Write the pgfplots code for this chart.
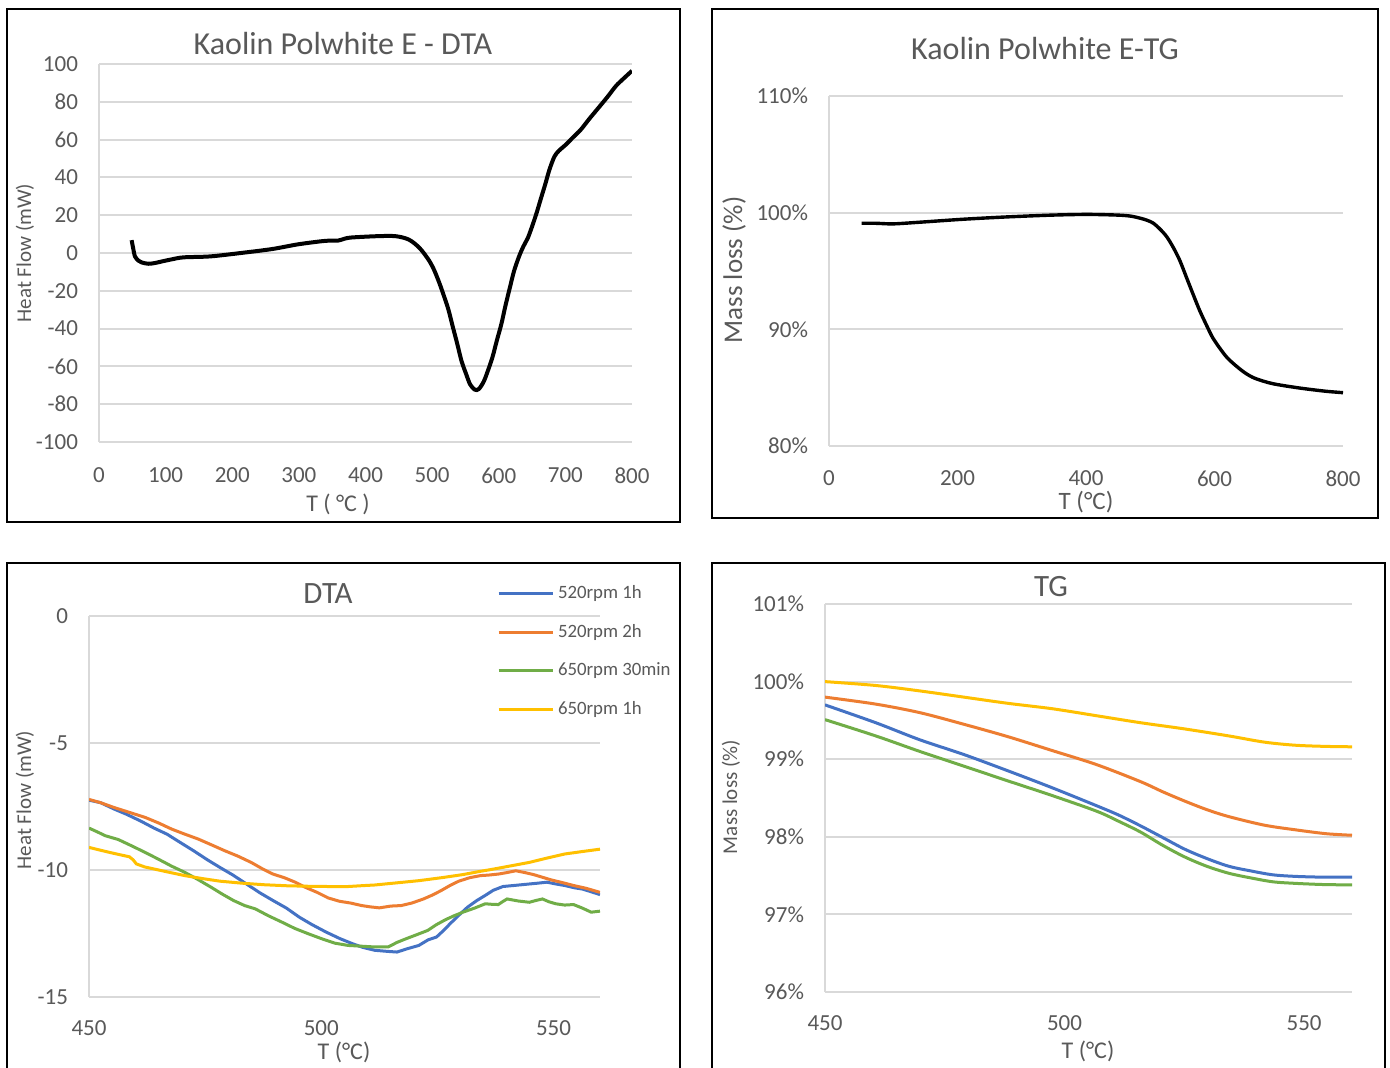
\documentclass[border=0pt]{standalone}
\usepackage{fontspec}
\setmainfont{Carlito}
\usepackage{pgfplots}
\pgfplotsset{compat=1.18}
\definecolor{txt}{HTML}{595959}
\definecolor{gridc}{HTML}{D9D9D9}
\definecolor{cb}{HTML}{4472C4}
\definecolor{co}{HTML}{ED7D31}
\definecolor{cg}{HTML}{70AD47}
\definecolor{cy}{HTML}{FFC000}
\pgfplotsset{
  base/.style={
    scale only axis,
    anchor=south west,
    axis x line*=bottom, axis y line*=left,
    axis line style={draw=gridc, line width=1pt, -},
    ymajorgrids, grid style={draw=gridc, line width=1pt},
    major tick length=0pt,
    tick label style={font=\fontsize{11.5}{13}\selectfont, text=txt},
    /pgf/number format/assume math mode=true,
    /pgf/number format/1000 sep={},
    yticklabel style={xshift=-7pt},
    xticklabel style={yshift=-8.5pt},
  },
  pct/.style={yticklabel={\pgfmathprintnumber{\tick}\%}},
}
\begin{document}
\begin{tikzpicture}
\fill[white] (0,0) rectangle (695pt,-534pt);
\useasboundingbox (0,0) rectangle (695pt,-534pt);
% frames
\draw[line width=1.3pt] (3.5pt,-4.5pt) rectangle (340pt,-261pt);
\draw[line width=1.3pt] (356pt,-4.5pt) rectangle (689pt,-259pt);
\draw[line width=1.3pt] (3.5pt,-281.5pt) rectangle (340pt,-545pt);
\draw[line width=1.3pt] (356pt,-281.5pt) rectangle (692.5pt,-545pt);

% ---------------- Panel 1: DTA overview
\begin{axis}[base, at={(49.5pt,-221pt)}, width=266.5pt, height=189pt,
  xmin=0, xmax=800, ymin=-100, ymax=100,
  xtick={0,100,...,800}, ytick={-100,-80,...,100},
  xticklabel style={yshift=-1pt}]
\addplot[black, line width=2pt, smooth] coordinates {
(49,6.8)(51,3)(54,-1.8)(59,-4)(64,-5.0)(74,-5.7)(84,-5.3)(94,-4.5)(110,-3.3)(127,-2.3)
(167,-1.8)(213,0)(260,2.1)(299,4.6)(339,6.4)(359,6.6)(368,7.5)(379,8.2)(418,8.9)(445,8.9)
(465,7.1)(481,2.7)(494.7,-3.6)(503,-9)(511,-16)(518,-23)(524.5,-30)(531,-39)(537.7,-48)
(544,-57)(551,-64)(557,-69.5)(564,-72.3)(570,-72)(577.5,-68)(584,-62)(590.7,-55)(597,-46.5)
(604,-37.5)(610,-28)(617,-17.9)(623,-9.5)(630.5,-1.8)(637,3.5)(643.7,8)(650,14)(657,21.4)
(663,28.5)(670,36.6)(676,44)(683.4,50.9)(690,54)(700,57.1)(711,61)(723,65.2)(736,71)
(749.7,76.8)(763,82.5)(776,88.4)(788,92.5)(800,96.4)};
\end{axis}

% ---------------- Panel 2: TG overview
\begin{axis}[base, pct, at={(414.5pt,-223pt)}, width=257pt, height=175pt,
  xmin=0, xmax=800, ymin=80, ymax=110,
  xtick={0,200,...,800}, ytick={80,90,100,110},
  xticklabel style={inner sep=0pt, yshift=-3.8pt}]
\addplot[black, line width=1.7pt, smooth] coordinates {
(50.8,99.09)(72.7,99.09)(100,99.04)(141,99.18)(210,99.44)(278.6,99.64)(347,99.79)(402,99.85)
(450,99.79)(470,99.7)(484,99.53)(495,99.35)(505,99.09)(515,98.6)(525.6,97.94)(536,97.0)
(546,95.9)(556,94.5)(566.7,93.0)(577,91.6)(588,90.3)(597,89.3)(608,88.4)(620,87.55)
(635,86.8)(648,86.25)(663,85.8)(690,85.35)(731,84.98)(772,84.7)(800,84.57)};
\end{axis}

% ---------------- Panel 3: DTA zoom
\begin{axis}[base, at={(44.5pt,-498.5pt)}, width=255.5pt, height=190.5pt,
  xmin=450, xmax=560, ymin=-15, ymax=0,
  xtick={450,500,550}, ytick={-15,-10,-5,0},
  legend style={at={(0.786,1.094)}, anchor=north west, draw=none, fill=none,
    font=\fontsize{9.4}{11}\selectfont, text=txt,
    nodes={inner sep=0pt, text height=7pt, text depth=2pt},
    row sep=10.35pt, column sep=2pt},
  legend cell align=left,
  legend image code/.code={\draw[#1, line width=1.5pt] (0pt,0pt) -- (27pt,0pt);}]
\addplot[cb, line width=1.5pt] coordinates {
(450,-7.25)(452.5,-7.35)(455.4,-7.6)(458,-7.8)(461.1,-8.07)(464,-8.35)(466.8,-8.59)(469.5,-8.9)
(472.5,-9.24)(475.5,-9.6)(478.2,-9.9)(481,-10.2)(483.9,-10.55)(486.8,-10.9)(489.6,-11.2)
(492.5,-11.5)(495.3,-11.86)(498,-12.15)(501,-12.44)(504,-12.7)(506.7,-12.9)(509,-13.05)
(511.5,-13.16)(514,-13.2)(516.3,-13.23)(518.5,-13.1)(521,-12.97)(523,-12.75)(524.8,-12.64)
(526.5,-12.35)(527.7,-12.12)(529.5,-11.8)(531.5,-11.46)(533.5,-11.2)(535.3,-11.0)(537,-10.8)
(539.1,-10.65)(542,-10.6)(544.8,-10.55)(546.5,-10.52)(548.6,-10.48)(550.5,-10.55)(552.4,-10.61)
(554.5,-10.7)(556.2,-10.75)(558,-10.85)(560,-10.97)};
\addlegendentry{520rpm 1h}
\addplot[co, line width=1.5pt] coordinates {
(450,-7.22)(452.5,-7.35)(455.4,-7.54)(458.5,-7.72)(462.1,-7.93)(465,-8.15)(467.8,-8.39)(470.5,-8.58)
(473.5,-8.78)(476.5,-9.02)(479.2,-9.24)(482,-9.45)(484.9,-9.7)(487.3,-9.95)(489.6,-10.16)(492,-10.3)
(494.4,-10.48)(496.8,-10.7)(499.1,-10.88)(501.5,-11.1)(503.9,-11.23)(506.3,-11.3)(508.7,-11.4)
(510.5,-11.45)(512.5,-11.49)(515,-11.42)(517.2,-11.4)(519.5,-11.3)(522,-11.14)(524,-10.98)
(525.8,-10.81)(527.8,-10.6)(529.6,-10.44)(532,-10.3)(534.3,-10.22)(536,-10.2)(538.1,-10.16)
(540,-10.1)(541.9,-10.03)(543.8,-10.1)(545.7,-10.18)(547.5,-10.28)(549.5,-10.39)(552,-10.5)
(554.3,-10.61)(557,-10.72)(560,-10.88)};
\addlegendentry{520rpm 2h}
\addplot[cg, line width=1.5pt] coordinates {
(450,-8.35)(451.8,-8.5)(453.5,-8.65)(456.3,-8.8)(459.2,-9.05)(462,-9.3)(464.9,-9.57)(467.8,-9.85)
(470.6,-10.09)(473.5,-10.38)(476.3,-10.68)(478.7,-10.95)(481.1,-11.2)(483.5,-11.4)(485.8,-11.53)
(488.6,-11.8)(491.5,-12.05)(494.3,-12.3)(497.2,-12.51)(500,-12.7)(502.9,-12.88)(505.8,-12.97)
(508.7,-13.0)(511.5,-13.03)(514.4,-13.03)(516.3,-12.85)(518.2,-12.71)(520.5,-12.55)(522.9,-12.38)
(524.8,-12.15)(526.7,-11.96)(528.6,-11.8)(530.5,-11.66)(533,-11.5)(535.3,-11.33)(536.7,-11.35)
(538.1,-11.36)(539,-11.25)(540,-11.14)(542.4,-11.22)(544.8,-11.27)(546.2,-11.2)(547.6,-11.14)
(549,-11.25)(550.5,-11.33)(552.4,-11.38)(554.3,-11.36)(556.2,-11.5)(558.1,-11.66)(560,-11.62)};
\addlegendentry{650rpm 30min}
\addplot[cy, line width=1.5pt] coordinates {
(450,-9.11)(452,-9.2)(454.5,-9.31)(456.7,-9.4)(458.7,-9.48)(459.5,-9.6)(460.2,-9.76)(462,-9.88)
(464,-9.96)(467,-10.08)(470.6,-10.22)(474.5,-10.34)(478.2,-10.44)(483,-10.52)(487.7,-10.58)
(492.5,-10.62)(497.2,-10.64)(501.5,-10.65)(505.8,-10.65)(508.5,-10.62)(511.5,-10.59)(516,-10.51)
(521,-10.42)(526,-10.3)(530.5,-10.18)(534,-10.06)(537.2,-9.96)(541,-9.83)(544.8,-9.7)(548.6,-9.53)
(552.4,-9.37)(556.3,-9.27)(560,-9.18)};
\addlegendentry{650rpm 1h}
\end{axis}

% ---------------- Panel 4: TG zoom
\begin{axis}[base, pct, at={(412.5pt,-496pt)}, width=263.5pt, height=194pt,
  xmin=450, xmax=560, ymin=96, ymax=101,
  xtick={450,500,550}, ytick={96,97,...,101}]
\addplot[cy, line width=1.5pt, smooth] coordinates {
(450,100.0)(460.6,99.95)(469.8,99.88)(479,99.8)(488.2,99.72)(497.5,99.65)(506.7,99.56)
(515.9,99.47)(525.1,99.39)(534.3,99.30)(541.7,99.22)(548.2,99.18)(554.6,99.165)(560,99.16)};
\addplot[co, line width=1.5pt, smooth] coordinates {
(450,99.80)(460.6,99.71)(469.8,99.60)(479,99.45)(488.2,99.29)(497.5,99.11)(506.7,98.93)
(515.9,98.71)(520.5,98.58)(525.1,98.46)(529.7,98.35)(534.3,98.26)(541.7,98.15)(548.2,98.09)
(554.6,98.04)(560,98.02)};
\addplot[cb, line width=1.5pt, smooth] coordinates {
(450,99.70)(460.6,99.47)(469.8,99.25)(479,99.06)(488.2,98.85)(497.5,98.63)(506.7,98.40)
(511.3,98.28)(515.9,98.14)(520.5,97.99)(525.1,97.84)(529.7,97.72)(534.3,97.62)(538.9,97.56)
(543.5,97.51)(548.2,97.49)(554,97.48)(560,97.48)};
\addplot[cg, line width=1.5pt, smooth] coordinates {
(450,99.51)(460.6,99.30)(469.8,99.10)(479,98.91)(488.2,98.72)(497.5,98.53)(506.7,98.33)
(511.3,98.20)(515.9,98.06)(520.5,97.89)(525.1,97.74)(529.7,97.62)(534.3,97.53)(538.9,97.47)
(543.5,97.42)(548.2,97.40)(554,97.385)(560,97.38)};
\end{axis}

% titles
\node[text=txt, font=\fontsize{16}{18}\selectfont] at (171.5pt,-22pt) {Kaolin Polwhite E - DTA};
\node[text=txt, font=\fontsize{16}{18}\selectfont] at (522.5pt,-24.5pt) {Kaolin Polwhite E-TG};
\node[text=txt, font=\fontsize{15.5}{17}\selectfont] at (164pt,-297pt) {DTA};
\node[text=txt, font=\fontsize{15.5}{17}\selectfont] at (525.5pt,-293.5pt) {TG};
% x labels
\node[inner sep=0pt, text=txt, font=\fontsize{12}{14}\selectfont] at (169pt,-252pt) {T ( °C )};
\node[inner sep=0pt, text=txt, font=\fontsize{12.5}{14}\selectfont] at (543pt,-251pt) {T (°C)};
\node[inner sep=0pt, text=txt, font=\fontsize{12}{14}\selectfont] at (172pt,-526pt) {T (°C)};
\node[inner sep=0pt, text=txt, font=\fontsize{12}{14}\selectfont] at (544pt,-525.5pt) {T (°C)};
% y labels
\node[inner sep=0pt, text=txt, font=\fontsize{10.5}{12}\selectfont, rotate=90] at (12.5pt,-126.5pt) {Heat Flow (mW)};
\node[inner sep=0pt, text=txt, font=\fontsize{13.5}{15}\selectfont, rotate=90] at (367pt,-135pt) {Mass loss (\%)};
\node[inner sep=0pt, text=txt, font=\fontsize{10.5}{12}\selectfont, rotate=90] at (12.5pt,-400pt) {Heat Flow (mW)};
\node[inner sep=0pt, text=txt, font=\fontsize{10.5}{12}\selectfont, rotate=90] at (365.5pt,-398.5pt) {Mass loss (\%)};
\end{tikzpicture}
\end{document}
